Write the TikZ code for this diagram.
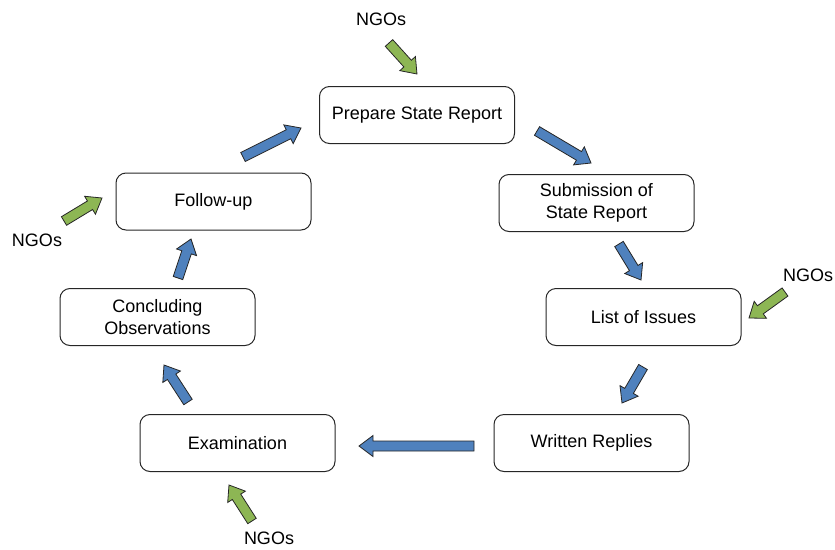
\documentclass[tikz,border=0pt]{standalone}
\usepackage{fontspec}
\setmainfont{Liberation Sans}
\usetikzlibrary{calc}
\definecolor{arrblue}{HTML}{4F81BD}
\definecolor{arrgreen}{HTML}{8DB654}
\tikzset{
  stepbox/.style={draw=black!85, line width=1pt, rounded corners=10pt, minimum width=195pt, minimum height=57pt, align=center, font=\fontsize{18}{22}\selectfont, inner sep=0pt},
  ngo/.style={font=\fontsize{18}{22}\selectfont, inner sep=0pt},
  bluearr/.style={draw=black!85, line width=0.8pt, fill=arrblue, line join=miter},
  greenarr/.style={draw=black!85, line width=0.8pt, fill=arrgreen, line join=miter},
}
\newcommand\blkarrow[3]{%
  \coordinate (hb) at ($(#3)!14pt!(#2)$);
  \draw[#1] ($(#2)!5pt!90:(#3)$) -- ($(hb)!5pt!90:(#3)$) -- ($(hb)!10.5pt!90:(#3)$) -- (#3)
    -- ($(hb)!10.5pt!-90:(#3)$) -- ($(hb)!5pt!-90:(#3)$) -- ($(#2)!5pt!-90:(#3)$) -- cycle;
}
\begin{document}
\begin{tikzpicture}[x=1pt,y=-1pt]
\useasboundingbox (0,0) rectangle (835,549);
% boxes
\node[stepbox] (prep) at (417,115) {Prepare State Report};
\node[stepbox] (sub) at (596.5,203) {Submission of\\State Report};
\node[stepbox] (loi) at (643.5,317) {List of Issues};
\node[stepbox] (wr) at (591.5,443) {Written Replies};
\node[stepbox] (exam) at (237.5,443) {Examination};
\node[stepbox] (co) at (157.5,317) {Concluding\\Observations};
\node[stepbox] (fu) at (213.5,201.5) {Follow-up};
% NGO labels
\node[ngo] (ngotop) at (381,19) {NGOs};
\node[ngo] (ngoright) at (808,275) {NGOs};
\node[ngo] (ngoleft) at (37,240) {NGOs};
\node[ngo] (ngobot) at (269,538) {NGOs};
% blue arrow endpoints
\coordinate (a1s) at (243,157); \coordinate (a1e) at (301,128);
\coordinate (a2s) at (537,131); \coordinate (a2e) at (591,163);
\coordinate (a3s) at (619,244); \coordinate (a3e) at (641,280);
\coordinate (a4s) at (643,367); \coordinate (a4e) at (622,403);
\coordinate (a5s) at (474,446); \coordinate (a5e) at (359,446);
\coordinate (a6s) at (188,402); \coordinate (a6e) at (164,365);
\coordinate (a7s) at (178,278); \coordinate (a7e) at (191,239);
\blkarrow{bluearr}{a1s}{a1e}
\blkarrow{bluearr}{a2s}{a2e}
\blkarrow{bluearr}{a3s}{a3e}
\blkarrow{bluearr}{a4s}{a4e}
\blkarrow{bluearr}{a5s}{a5e}
\blkarrow{bluearr}{a6s}{a6e}
\blkarrow{bluearr}{a7s}{a7e}
% green arrows
\coordinate (g1s) at (389,43); \coordinate (g1e) at (417,74);
\coordinate (g2s) at (785,292); \coordinate (g2e) at (749,318);
\coordinate (g3s) at (64,221); \coordinate (g3e) at (102,198);
\coordinate (g4s) at (252,521); \coordinate (g4e) at (229,485);
\blkarrow{greenarr}{g1s}{g1e}
\blkarrow{greenarr}{g2s}{g2e}
\blkarrow{greenarr}{g3s}{g3e}
\blkarrow{greenarr}{g4s}{g4e}
\end{tikzpicture}
\end{document}
